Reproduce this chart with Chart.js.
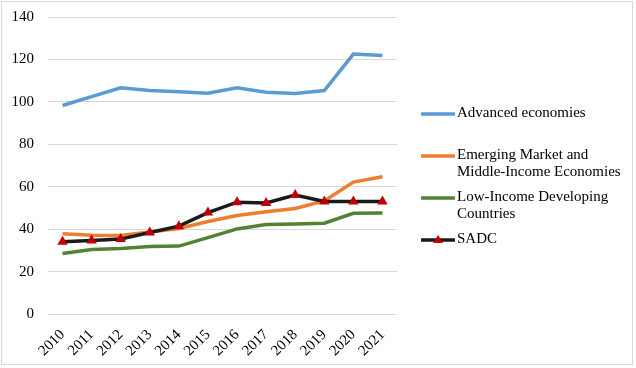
<!DOCTYPE html>
<html>
<head>
<meta charset="utf-8">
<script src="https://cdn.jsdelivr.net/npm/chart.js@4/dist/chart.umd.min.js"></script>
<style>
  html, body { margin: 0; padding: 0; background: #fff; }
  #wrap { position: relative; width: 636px; height: 368px; }
  #frame { position: absolute; left: 1px; top: 1px; width: 630px; height: 362px; border: 1px solid #d9d9d9; pointer-events: none; }
  #chartBox { position: absolute; left: 0; top: 0; width: 636px; height: 368px; }
  #legend { position: absolute; left: 421px; top: 0; font-family: "Liberation Serif", serif; font-size: 15px; color: #000; }
  .item { position: absolute; left: 0; display: flex; align-items: flex-start; white-space: nowrap; line-height: 17px; }
  .item svg { flex: none; margin-right: 2px; margin-top: 2px; }
</style>
</head>
<body>
<div id="wrap">
  <div id="chartBox"><canvas id="c" width="636" height="368"></canvas></div>
  <div id="legend"></div>
  <div id="frame"></div>
</div>
<script>
const years = ["2010","2011","2012","2013","2014","2015","2016","2017","2018","2019","2020","2021"];
const advanced = [98.3, 102.5, 106.6, 105.3, 104.8, 104.1, 106.6, 104.5, 103.9, 105.3, 122.5, 121.9];
const emerging = [37.8, 37.1, 37.0, 38.6, 40.3, 43.6, 46.4, 48.2, 49.7, 53.3, 62.2, 64.7];
const lowIncome = [28.5, 30.4, 30.9, 31.8, 32.0, 36.0, 40.1, 42.2, 42.4, 42.8, 47.5, 47.6];
const sadc = [34.0, 34.6, 35.3, 38.4, 41.4, 47.8, 52.7, 52.3, 56.1, 53.0, 53.0, 53.0];
const seriesNames = ["Advanced economies", ["Emerging Market and", "Middle-Income Economies"], ["Low-Income Developing", "Countries"], "SADC"];
const yTicks = [0, 20, 40, 60, 80, 100, 120, 140];

const colors = ["#5B9BD5", "#ED7D31", "#548235", "#1a1a1a"];
const serif = "'Liberation Serif', 'Times New Roman', serif";

const datasets = [advanced, emerging, lowIncome, sadc].map((d, i) => ({
  label: Array.isArray(seriesNames[i]) ? seriesNames[i].join(" ") : seriesNames[i],
  data: d,
  borderColor: colors[i],
  backgroundColor: i === 3 ? "#C00000" : colors[i],
  borderWidth: 3.5,
  tension: 0,
  pointRadius: i === 3 ? 6 : 0,
  pointStyle: i === 3 ? "triangle" : "circle",
  pointBorderWidth: 0,
  pointBorderColor: "#C00000",
  pointBackgroundColor: "#C00000",
  order: 3 - i
}));

new Chart(document.getElementById("c"), {
  type: "line",
  data: { labels: years, datasets },
  options: {
    responsive: false,
    animation: false,
    layout: { padding: { left: 0, right: 239, top: 17, bottom: 4 } },
    plugins: { legend: { display: false }, tooltip: { enabled: false } },
    scales: {
      x: {
        offset: true,
        grid: { display: false },
        border: { display: false },
        ticks: { color: "#000", font: { family: serif, size: 15 }, autoSkip: false, maxRotation: 45, minRotation: 45, padding: 4 },
        afterFit: (s) => { s.paddingLeft = 0; s.paddingRight = 0; s.height = 50; }
      },
      y: {
        min: 0, max: 140,
        afterBuildTicks: (axis) => { axis.ticks = yTicks.map(v => ({ value: v })); },
        grid: { color: "#d9d9d9", lineWidth: 1, drawTicks: false },
        border: { display: false },
        ticks: { color: "#000", font: { family: serif, size: 15 }, padding: 14 },
        afterFit: (s) => { s.width = 48; s.paddingTop = 0; s.paddingBottom = 0; }
      }
    }
  }
});

// HTML legend built from the series
const legend = document.getElementById("legend");
const tops = [104, 146, 188, 230];
seriesNames.forEach((name, i) => {
  const item = document.createElement("div");
  item.className = "item";
  item.style.top = tops[i] + "px";
  const marker = i === 3 ? '<polygon points="17,3 22,11 12,11" fill="#C00000"/>' : '';
  item.innerHTML = '<svg width="34" height="14"><line x1="1" y1="8" x2="33" y2="8" stroke="' + colors[i] + '" stroke-width="3.5" stroke-linecap="round"/>' + marker + '</svg>' +
    '<div>' + (Array.isArray(name) ? name.join("<br>") : name) + '</div>';
  legend.appendChild(item);
});
</script>
</body>
</html>
